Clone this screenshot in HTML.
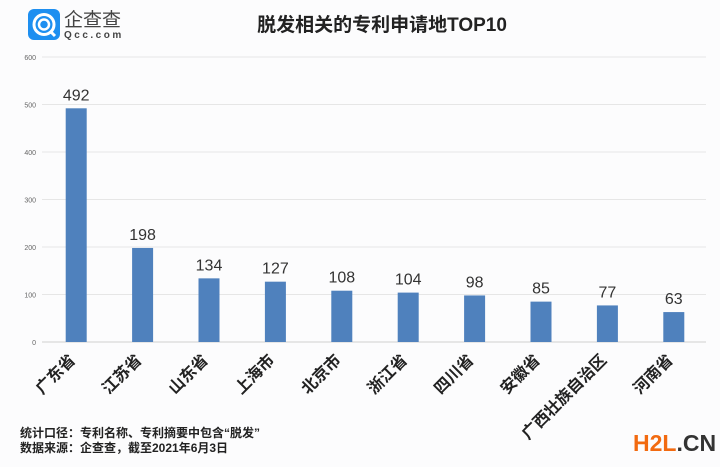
<!DOCTYPE html>
<html><head><meta charset="utf-8"><style>
body{margin:0;background:#fcfcfd;}
svg{display:block;font-family:"Liberation Sans","Noto Sans CJK SC",sans-serif;}
</style></head><body>
<svg id="c" width="720" height="467">
  <g>
    <rect x="28" y="9" width="32" height="31" rx="6" fill="#1e8ff0"/>
    <circle cx="44" cy="24.5" r="10" fill="none" stroke="#fff" stroke-width="3"/>
    <circle cx="44" cy="24.5" r="5" fill="none" stroke="#fff" stroke-width="2.5"/>
    <line x1="50" y1="31" x2="55" y2="36" stroke="#fff" stroke-width="3"/>
    <text x="64" y="26" font-size="19" fill="#444">企查查</text>
    <text x="64" y="38" font-size="10" fill="#444" letter-spacing="2.5" font-weight="bold">Qcc.com</text>
  </g>
  <text x="382" y="31" text-anchor="middle" font-size="19" font-weight="bold" fill="#222">脱发相关的专利申请地TOP10</text>
  <g id="grid"></g>
  <g id="bars"></g>
  <text x="20" y="437" font-size="12" font-weight="bold" fill="#222">统计口径：专利名称、专利摘要中包含“脱发”</text>
  <text x="20" y="452" font-size="12" font-weight="bold" fill="#222">数据来源：企查查，截至2021年6月3日</text>
  <text x="633" y="451" font-size="23" font-weight="bold"><tspan fill="#f26a10">H2L</tspan><tspan fill="#333">.CN</tspan></text>
</svg>
<script>
const categories=["广东省","江苏省","山东省","上海市","北京市","浙江省","四川省","安徽省","广西壮族自治区","河南省"];
const values=[492,198,134,127,108,104,98,85,77,63];
const yTicks=[0,100,200,300,400,500,600];
const NS="http://www.w3.org/2000/svg";
const x0=42,x1=706,y0=342,y1=57,yMax=600;
const y=v=>y0-(v/yMax)*(y0-y1);
const step=(x1-x0)/categories.length;
const xc=i=>x0+step*(i+0.5)+1;
function mk(t,a,p){const e=document.createElementNS(NS,t);for(const k in a)e.setAttribute(k,a[k]);p.appendChild(e);return e;}
const grid=document.getElementById('grid'),bars=document.getElementById('bars');
yTicks.forEach(t=>{
  const l=mk('line',{x1:x0,x2:x1,y1:y(t),y2:y(t),stroke:t===0?'#d0d0d0':'#e6e6e6','stroke-width':1},grid);
  
  
  const tx=mk('text',{x:36,y:y(t)+3,'text-anchor':'end','font-size':7,fill:'#666'},grid);
  tx.textContent=t;
  
  
});
categories.forEach((c,i)=>{
  const cx=xc(i),w=21;
  const r=mk('rect',{x:cx-w/2,y:y(values[i]),width:w,height:y0-y(values[i]),fill:'#4f81bd'},bars);
  
  
  const v=mk('text',{x:cx,y:y(values[i])-8,'text-anchor':'middle','font-size':16,fill:'#333'},bars);
  v.textContent=values[i];
  
  
  const lb=mk('text',{x:0,y:0,'text-anchor':'end','font-size':16,'font-weight':'bold',fill:'#222',transform:`translate(${cx},${361}) rotate(-45)`},bars);
  lb.textContent=c;
  
  
});
</script>
</body></html>
